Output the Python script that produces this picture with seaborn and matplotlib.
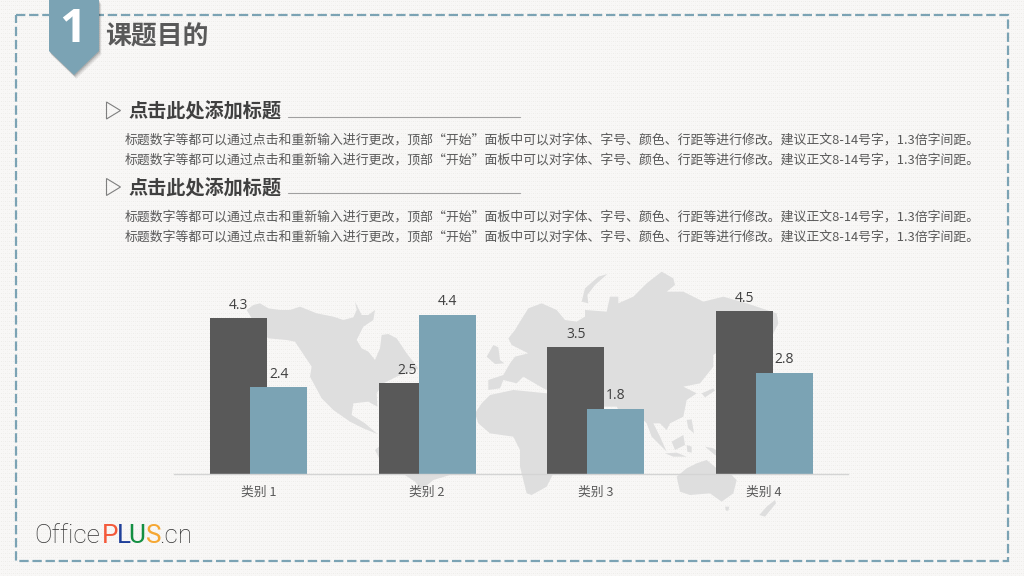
import numpy as np
import pandas as pd
import matplotlib
matplotlib.use("Agg")
import matplotlib.pyplot as plt
from matplotlib.patches import Polygon, Rectangle
import seaborn as sns

categories = ["类别 1", "类别 2", "类别 3", "类别 4"]
series_dark = [4.3, 2.5, 3.5, 4.5]
series_blue = [2.4, 4.4, 1.8, 2.8]
title = "课题目的"
heading = "点击此处添加标题"
body = "标题数字等都可以通过点击和重新输入进行更改，顶部“开始”面板中可以对字体、字号、颜色、行距等进行修改。建议正文8-14号字，1.3倍字间距。"

DARK, BLUE, MAP, TXT = "#595959", "#7ba3b4", "#dedede", "#595959"
CJK = ["Noto Sans CJK SC", "DejaVu Sans"]

sns.set_theme(style="white")
plt.rcParams["font.family"] = CJK
fig = plt.figure(figsize=(10.24, 5.76), dpi=100)

# ---------- decorative page layer in pixel coordinates ----------
bg = fig.add_axes([0, 0, 1, 1], zorder=0)
bg.set_xlim(0, 1024); bg.set_ylim(576, 0); bg.axis("off")
tile = np.zeros((576, 1024, 3), dtype=np.uint8)
tile[..., 0] = 248; tile[..., 1] = 247; tile[..., 2] = 246
tile[1::4, 1::4, :] = (237, 236, 233)
tile[1::4, 3::4, :] = (241, 240, 238)
tile[3::4, 3::4, :] = (243, 242, 240)
bg.imshow(tile, extent=(0, 1024, 576, 0), aspect="auto", interpolation="nearest", zorder=0)

def z5(p):
    return [(240 + x / 3, 260 + y / 3) for x, y in p]
def z6(p):
    return [(470 + x / 3, 260 + y / 3) for x, y in p]

land = [
    z5([(20,150),(40,135),(60,130),(85,145),(120,150),(150,150),(180,140),(205,150),(230,160),(280,170),(310,180),(340,172),
        (350,150),(345,125),(365,165),(385,165),(405,150),(400,180),(370,200),(350,240),(365,265),(385,275),(405,300),
        (420,265),(425,225),(445,222),(470,235),(500,280),(535,325),(470,350),(430,370),(410,400),(412,440),(385,425),
        (340,430),(335,465),(375,490),(412,522),(370,505),(330,485),(280,450),(245,415),(210,350),(215,320),(165,245),
        (140,240),(85,235),(50,200)]),
    z5([(405,570),(440,540),(560,540),(700,600),(640,642),(580,660),(545,690),(525,665),(490,642),(420,600)]),
    z6([(55,360),(100,345),(120,310),(135,290),(175,280),(125,255),(115,235),(135,210),(150,185),(175,145),(215,130),(260,150),
        (285,180),(320,185),(345,170),(345,150),(410,155),(420,110),(445,110),(445,130),(490,110),(530,70),(575,35),
        (610,55),(615,75),(590,95),(640,95),(700,125),(760,110),(830,130),(920,160),(925,190),(905,230),(860,250),
        (780,250),(730,285),(730,320),(690,370),(640,380),(680,400),(650,420),(640,470),(600,490),(590,510),(570,490),
        (550,490),(570,530),(590,575),(545,530),(530,490),(510,470),(480,510),(440,440),(350,440),(220,385),(160,350),
        (140,370),(100,360),(90,385),(55,390)]),
    z6([(15,460),(35,430),(60,405),(130,390),(230,400),(300,420),(340,470),(380,480),(340,560),(300,640),(250,640),(230,680),
        (185,705),(170,700),(150,620),(150,570),(130,530),(60,520),(25,490)]),
    z6([(620,650),(650,625),(680,610),(710,600),(740,625),(770,630),(800,660),(790,700),(755,725),(720,700),(660,705),(630,695)]),
    z6([(335,125),(345,85),(385,50),(412,42),(375,75),(352,105),(355,130)]),
    z6([(50,290),(70,255),(85,262),(90,300),(103,310),(75,312)]),
    z6([(605,545),(640,525),(645,555),(615,570)]),
    z6([(585,580),(620,578),(650,590),(610,590)]),
    z6([(650,480),(665,478),(672,520),(655,505)]),
    z6([(650,555),(665,560),(665,578),(652,575)]),
    z6([(705,560),(730,565),(765,590),(735,585)]),
    z6([(695,400),(730,385),(735,392),(705,412)]),
    z6([(868,765),(890,740),(915,720),(918,730),(885,770)]),
    z6([(765,740),(778,740),(775,752),(768,752)]),
]
for poly in land:
    bg.add_patch(Polygon(poly, closed=True, fc=MAP, ec="none", zorder=1))

# dashed frame
bg.add_patch(Rectangle((15.5, 14.8), 992.5, 546.2, fc="none", ec=BLUE, lw=1.6,
                       linestyle=(0, (4.2, 1.7)), zorder=2))

# ribbon with soft shadow
ribbon = [(49, 0), (99, 0), (99, 51), (74, 75), (49, 51)]
for d, a in ((4, .05), (3, .07), (2, .09), (1, .12)):
    bg.add_patch(Polygon([(x + d * .6, y + d) for x, y in ribbon], fc="black", alpha=a, ec="none", zorder=3))
bg.add_patch(Polygon(ribbon, fc=BLUE, ec="none", zorder=4))
bg.text(72.5, 42, "1", color="white", fontsize=34, fontweight="bold", family="Open Sans",
        ha="center", va="baseline", zorder=5)
bg.text(105.5, 37.5, title, color=TXT, fontsize=18.6, fontweight="bold", family=CJK, va="center", zorder=5)

for ty, ly in ((110.5, 116.5), (187, 193)):
    top = ty - 8.5
    bg.add_patch(Polygon([(106.5, top), (120.5, top + 8.5), (106.5, top + 17)], fc="none", ec="#7f7f7f", lw=.8, zorder=5))
    bg.text(128.5, ty + 1.4, heading, color="#404040", fontsize=13.8, fontweight="bold", family=CJK, va="center", zorder=5)
    bg.plot([288, 520], [ly, ly], color="#a0a0a0", lw=.8, zorder=5)
for y in (140, 160, 217, 237):
    bg.text(125, y, body, color=TXT, fontsize=9.28, family=CJK, va="center", zorder=5)

# logo
for x, s, c, w in ((34, "Office", "#333333", "light"), (101.5, "P", "#f4593a", "normal"), (116.5, "L", "#20409a", "normal"),
                   (128.5, "U", "#138f42", "normal"), (146, "S", "#f5a733", "normal"), (159.5, ".cn", "#333333", "light")):
    bg.text(x, 543, s, color=c, fontsize=18.8, family="Roboto", fontweight=w, va="baseline", zorder=5)

# ---------- chart ----------
ax = fig.add_axes([174.4 / 1024, (576 - 473.7) / 576, 674 / 1024, 180.5 / 576], zorder=2)
ax.patch.set_alpha(0)
offset, width = 40 / 168.5 / 2, 57 / 168.5
base = np.arange(len(categories))
dark_df = pd.DataFrame({"x": base - offset, "v": series_dark})
blue_df = pd.DataFrame({"x": base + offset, "v": series_blue})
sns.barplot(data=dark_df, x="x", y="v", native_scale=True, width=width, color=DARK, saturation=1,
            errorbar=None, linewidth=0, ax=ax)
sns.barplot(data=blue_df, x="x", y="v", native_scale=True, width=width, color=BLUE, saturation=1,
            errorbar=None, linewidth=0, ax=ax)
for cont in ax.containers:
    ax.bar_label(cont, fmt="%.1f", padding=4, fontsize=10, color="#404040", family="Open Sans")
ax.set_xlim(-0.5, 3.5); ax.set_ylim(0, 5)
ax.set_xticks(base, categories, fontsize=9.2, color=TXT, family=CJK)
ax.tick_params(axis="x", length=0, pad=9)
ax.set_yticks([]); ax.set_xlabel(""); ax.set_ylabel("")
sns.despine(ax=ax, left=True)
ax.spines["bottom"].set_color("#d4d4d4"); ax.spines["bottom"].set_linewidth(1)

fig.savefig("out.png", dpi=100)
